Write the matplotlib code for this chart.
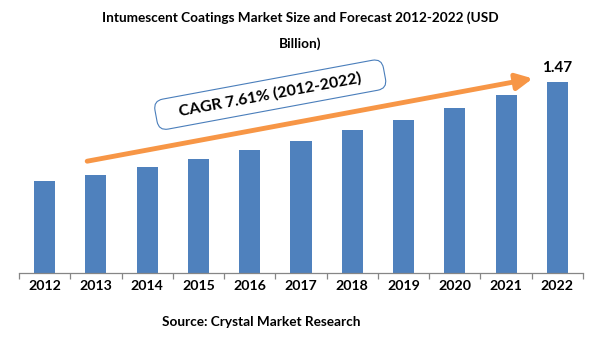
import matplotlib
matplotlib.use("Agg")
import matplotlib.pyplot as plt

years = ["2012", "2013", "2014", "2015", "2016", "2017",
         "2018", "2019", "2020", "2021", "2022"]
market_size = [0.708, 0.754, 0.816, 0.877, 0.947, 1.016,
               1.100, 1.178, 1.270, 1.370, 1.47]
last_label = "1.47"
cagr_text = "CAGR 7.61% (2012-2022)"

plt.rcParams['font.family'] = ['Lato', 'DejaVu Sans']

fig = plt.figure(figsize=(6.01, 3.61), dpi=100)
ax = fig.add_axes([19 / 601, 88 / 361, 564 / 601, 214 / 361])

x = list(range(len(years)))
ax.bar(x, market_size, width=0.41, color="#4F81BD")
ax.set_xlim(-0.5, len(years) - 0.5)
ax.set_ylim(0, 1.65)

for s in ["top", "right", "left"]:
    ax.spines[s].set_visible(False)
ax.spines["bottom"].set_color("#868686")
ax.spines["bottom"].set_linewidth(0.9)
ax.set_yticks([])

# ticks between categories
ax.set_xticks([i + 0.5 for i in range(-1, len(years))])
ax.set_xticklabels([])
ax.tick_params(axis="x", length=4, color="#868686", width=0.9)
for i, yr in enumerate(years):
    ax.text(i, -0.1, yr, ha="center", va="center", fontsize=10.2,
            fontweight="bold")

ax.text(len(years) - 1, market_size[-1] + 0.11, last_label, ha="center",
        va="center", fontsize=11, fontweight="bold")

# trend arrow
ax.annotate("", xy=(9.52, 1.50), xytext=(0.83, 0.862),
            arrowprops=dict(arrowstyle="-|>,head_length=0.7,head_width=0.35",
                            color="#F79646", lw=3.5, mutation_scale=14,
                            shrinkA=0, shrinkB=0))

ax.text(4.40, 1.375, "    " + cagr_text + "    ", rotation=10.5,
        rotation_mode="anchor", ha="center", va="center", fontsize=11.5,
        fontweight="bold",
        bbox=dict(boxstyle="round,pad=0.5,rounding_size=0.6",
                  fc="white", ec="#4A7EBB", lw=0.8))

fig.text(0.5, 1 - 18 / 361, "Intumescent Coatings Market Size and Forecast 2012-2022 (USD",
         ha="center", va="center", fontsize=9.8, fontweight="bold")
fig.text(0.5, 1 - 44 / 361, "Billion)", ha="center", va="center",
         fontsize=9.8, fontweight="bold")
fig.text(261 / 601, 1 - 322 / 361, "Source: Crystal Market Research",
         ha="center", va="center", fontsize=9.8, fontweight="bold")

fig.savefig("out.png", dpi=100)
